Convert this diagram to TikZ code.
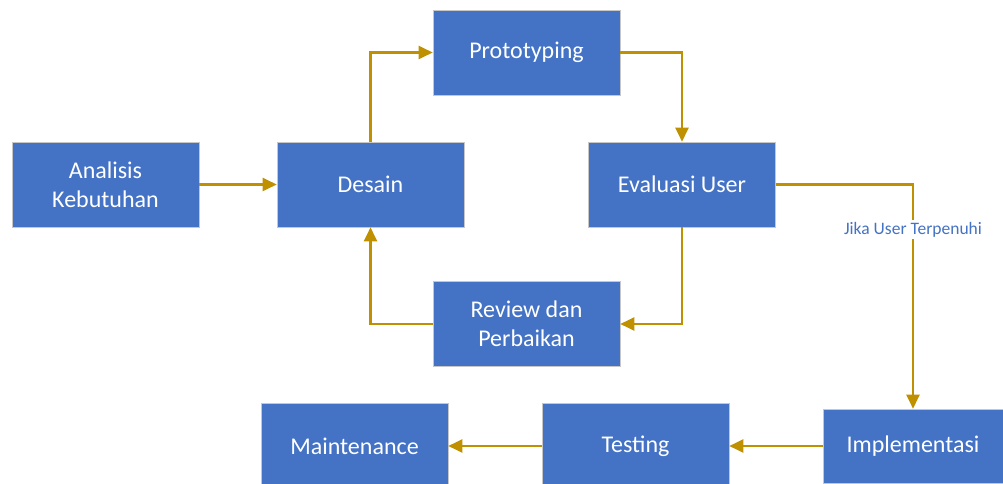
\documentclass[tikz,border=0pt]{standalone}
\usepackage{fontspec}
\setmainfont{Carlito}
\usepackage{tikz}
\usetikzlibrary{arrows.meta,positioning}
\definecolor{boxblue}{HTML}{4472C4}
\definecolor{gold}{HTML}{BF9000}

\begin{document}
\begin{tikzpicture}[
  x=1pt, y=-1pt,
  every node/.style={align=center},
  stage/.style={draw=black!22, fill=boxblue, line width=0.6pt, text=white,
                font=\fontsize{24}{29}\selectfont, minimum width=187pt,
                minimum height=85pt, inner sep=2pt},
  fl/.style={-{Triangle[length=14pt,width=13pt]}, draw=gold, line width=2.2pt},
  cond/.style={font=\fontsize{17.5}{20}\selectfont, text=boxblue, fill=white,
               inner sep=2pt},
]
\useasboundingbox (0,0) rectangle (1003,484);

% ---------- the prototype loop ----------
\node[stage] (analisis) at (105.5,184.5) {Analisis\\Kebutuhan};
\node[stage] (desain)   at (370.5,184.5) {Desain};
\node[stage] (proto)    at (526.5,52.5)  {Prototyping};
\node[stage] (eval)     at (682,184.5)   {Evaluasi User};
\node[stage] (review)   at (526.5,324)   {Review dan\\Perbaikan};

\draw[fl] (analisis.east) -- (desain.west);
\draw[fl] (desain.north) |- (proto.west);
\draw[fl] (proto.east) -| (eval.north);
\draw[fl] (eval.south) |- (review.east);
\draw[fl] (review.west) -| (desain.south);

% ---------- after the user is satisfied ----------
\node[stage, minimum width=180pt, minimum height=74pt] (impl) at (913,446) {Implementasi};
\node[stage] (testing) at (635.5,446) {Testing};
\node[stage] (maint)   at (354.5,446) {Maintenance};

\draw[fl] (eval.east) -| node[cond, pos=0.6] {Jika User Terpenuhi} (impl.north);
\draw[fl] (impl.west) -- (testing.east);
\draw[fl] (testing.west) -- (maint.east);
\end{tikzpicture}
\end{document}
